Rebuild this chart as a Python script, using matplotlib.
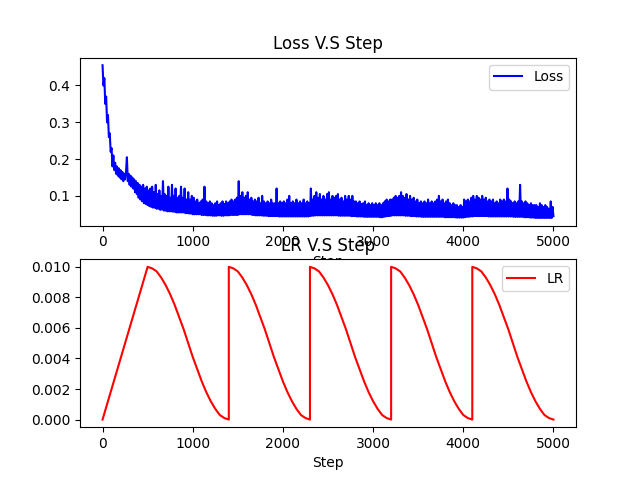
import matplotlib
matplotlib.use("Agg")
import matplotlib.pyplot as plt

# loss every 10 steps (alternating band bottom / top)
loss_step_interval = 10
loss_values = [
    0.455, 0.40, 0.42, 0.35, 0.37, 0.30, 0.32, 0.26, 0.27, 0.22,
    0.23, 0.18, 0.21, 0.17, 0.19, 0.16, 0.18, 0.155, 0.175, 0.15,
    0.17, 0.145, 0.165, 0.14, 0.16, 0.145, 0.165, 0.205, 0.14, 0.16,
    0.13, 0.155, 0.125, 0.15, 0.12, 0.145, 0.11, 0.14, 0.105, 0.135,
    0.095, 0.13, 0.09, 0.125, 0.085, 0.13, 0.08, 0.12, 0.078, 0.125,
    0.075, 0.115, 0.072, 0.12, 0.07, 0.125, 0.068, 0.11, 0.068, 0.13,
    0.065, 0.105, 0.065, 0.115, 0.062, 0.10, 0.063, 0.14, 0.06, 0.105,
    0.06, 0.10, 0.058, 0.125, 0.058, 0.095, 0.058, 0.13, 0.057, 0.10,
    0.057, 0.12, 0.055, 0.095, 0.055, 0.10, 0.055, 0.125, 0.055, 0.095,
    0.055, 0.12, 0.053, 0.09, 0.053, 0.11, 0.052, 0.09, 0.052, 0.10,
    0.05, 0.095, 0.05, 0.085, 0.05, 0.09, 0.05, 0.08, 0.05, 0.085,
    0.048, 0.09, 0.048, 0.125, 0.048, 0.085, 0.047, 0.08, 0.047, 0.085,
    0.047, 0.08, 0.046, 0.075, 0.046, 0.08, 0.046, 0.085, 0.047, 0.075,
    0.047, 0.08, 0.046, 0.085, 0.046, 0.078, 0.047, 0.085, 0.047, 0.08,
    0.047, 0.085, 0.048, 0.09, 0.048, 0.085, 0.048, 0.09, 0.048, 0.095,
    0.048, 0.14, 0.05, 0.10, 0.05, 0.11, 0.05, 0.095, 0.05, 0.10,
    0.05, 0.11, 0.05, 0.09, 0.05, 0.095, 0.048, 0.085, 0.048, 0.09,
    0.047, 0.085, 0.047, 0.095, 0.047, 0.08, 0.047, 0.10, 0.046, 0.085,
    0.046, 0.08, 0.046, 0.085, 0.045, 0.08, 0.045, 0.09, 0.045, 0.08,
    0.045, 0.08, 0.045, 0.12, 0.045, 0.08, 0.044, 0.085, 0.044, 0.08,
    0.044, 0.085, 0.044, 0.08, 0.044, 0.09, 0.044, 0.10, 0.044, 0.08,
    0.044, 0.085, 0.044, 0.08, 0.044, 0.09, 0.044, 0.08, 0.044, 0.085,
    0.044, 0.08, 0.044, 0.09, 0.044, 0.08, 0.044, 0.085, 0.044, 0.08,
    0.045, 0.12, 0.046, 0.09, 0.046, 0.10, 0.047, 0.11, 0.047, 0.095,
    0.047, 0.105, 0.047, 0.09, 0.047, 0.10, 0.047, 0.09, 0.047, 0.105,
    0.047, 0.11, 0.047, 0.09, 0.047, 0.10, 0.047, 0.095, 0.047, 0.10,
    0.047, 0.105, 0.046, 0.09, 0.046, 0.095, 0.046, 0.085, 0.046, 0.10,
    0.046, 0.09, 0.046, 0.10, 0.046, 0.09, 0.045, 0.10, 0.045, 0.085,
    0.045, 0.085, 0.044, 0.08, 0.044, 0.085, 0.044, 0.078, 0.044, 0.08,
    0.043, 0.085, 0.043, 0.075, 0.043, 0.08, 0.043, 0.075, 0.043, 0.08,
    0.043, 0.075, 0.043, 0.08, 0.043, 0.075, 0.043, 0.08, 0.042, 0.075,
    0.042, 0.08, 0.043, 0.085, 0.044, 0.09, 0.045, 0.085, 0.045, 0.09,
    0.046, 0.09, 0.047, 0.095, 0.047, 0.10, 0.047, 0.095, 0.047, 0.10,
    0.047, 0.11, 0.047, 0.10, 0.047, 0.095, 0.046, 0.105, 0.046, 0.09,
    0.046, 0.10, 0.045, 0.09, 0.045, 0.095, 0.045, 0.085, 0.044, 0.09,
    0.044, 0.08, 0.044, 0.085, 0.043, 0.08, 0.043, 0.085, 0.043, 0.08,
    0.043, 0.09, 0.043, 0.08, 0.043, 0.085, 0.043, 0.08, 0.043, 0.085,
    0.043, 0.09, 0.043, 0.10, 0.043, 0.085, 0.043, 0.09, 0.043, 0.08,
    0.042, 0.085, 0.042, 0.09, 0.042, 0.08, 0.042, 0.075, 0.042, 0.08,
    0.042, 0.075, 0.041, 0.075, 0.041, 0.07, 0.041, 0.075, 0.041, 0.07,
    0.041, 0.09, 0.042, 0.085, 0.043, 0.09, 0.043, 0.085, 0.044, 0.095,
    0.044, 0.10, 0.045, 0.09, 0.045, 0.10, 0.045, 0.095, 0.045, 0.09,
    0.045, 0.10, 0.045, 0.09, 0.045, 0.095, 0.045, 0.085, 0.044, 0.09,
    0.044, 0.085, 0.044, 0.09, 0.044, 0.08, 0.044, 0.085, 0.044, 0.08,
    0.044, 0.09, 0.044, 0.085, 0.044, 0.09, 0.044, 0.085, 0.044, 0.12,
    0.044, 0.09, 0.044, 0.085, 0.044, 0.08, 0.043, 0.085, 0.043, 0.08,
    0.043, 0.085, 0.043, 0.13, 0.043, 0.085, 0.043, 0.08, 0.042, 0.085,
    0.042, 0.08, 0.042, 0.075, 0.041, 0.08, 0.041, 0.075, 0.041, 0.075,
    0.04, 0.075, 0.04, 0.07, 0.04, 0.08, 0.04, 0.075, 0.04, 0.07,
    0.04, 0.075, 0.04, 0.07, 0.04, 0.065, 0.04, 0.085, 0.04, 0.07,
    0.045,
]
loss_steps = [i * loss_step_interval for i in range(len(loss_values))]

# learning rate every 50 steps (restarts appear twice)
lr_steps = [
    0, 50, 100, 150, 200, 250, 300, 350, 400, 450,
    500, 550, 600, 650, 700, 750, 800, 850, 900, 950,
    1000, 1050, 1100, 1150, 1200, 1250, 1300, 1350, 1400,
    1400, 1450, 1500, 1550, 1600, 1650, 1700, 1750, 1800, 1850,
    1900, 1950, 2000, 2050, 2100, 2150, 2200, 2250, 2300,
    2300, 2350, 2400, 2450, 2500, 2550, 2600, 2650, 2700, 2750,
    2800, 2850, 2900, 2950, 3000, 3050, 3100, 3150, 3200,
    3200, 3250, 3300, 3350, 3400, 3450, 3500, 3550, 3600, 3650,
    3700, 3750, 3800, 3850, 3900, 3950, 4000, 4050, 4100,
    4100, 4150, 4200, 4250, 4300, 4350, 4400, 4450, 4500, 4550,
    4600, 4650, 4700, 4750, 4800, 4850, 4900, 4950, 5000,
]
lr_cycle = [
    0.0100, 0.0099, 0.0097, 0.0093, 0.0088, 0.0082, 0.0075, 0.0067, 0.0059,
    0.0050, 0.0041, 0.0033, 0.0025, 0.0018, 0.0012, 0.0007, 0.0003, 0.0001,
    0.0000,
]
lr_warmup = [0.0, 0.001, 0.002, 0.003, 0.004, 0.005, 0.006, 0.007, 0.008, 0.009]
lr_values = lr_warmup + lr_cycle + lr_cycle + lr_cycle + lr_cycle + lr_cycle

fig = plt.figure(figsize=(6.4, 4.8), dpi=100)

plt.subplot(2, 1, 1)
plt.plot(loss_steps, loss_values, color='blue', label='Loss')
plt.title('Loss V.S Step')
plt.xlabel('Step')
plt.legend(loc='upper right')

plt.subplot(2, 1, 2)
plt.plot(lr_steps, lr_values, color='red', label='LR')
plt.title('LR V.S Step')
plt.xlabel('Step')
plt.legend(loc='upper right')

plt.savefig('out.png', dpi=100)
